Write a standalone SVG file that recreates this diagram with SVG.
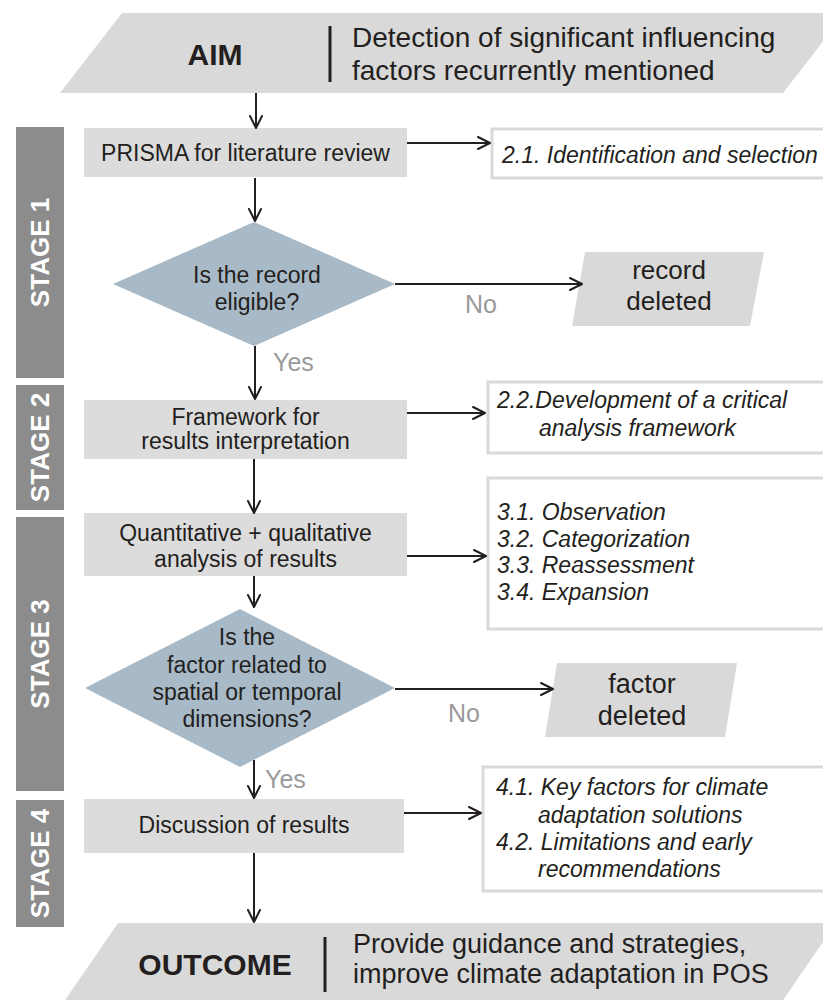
<svg xmlns="http://www.w3.org/2000/svg" width="823" height="1000" viewBox="0 0 823 1000">
<style>
text{font-family:"Liberation Sans",Arial,sans-serif;fill:#231f20}
.b{font-size:23px}
.c{text-anchor:middle}
.i{font-size:23px;font-style:italic}
.lbl{font-size:25px;fill:#9a9a9a}
.big{font-size:30px;font-weight:bold}
.hd{font-size:28px}
.ot{font-size:27px}
.st{font-size:26px;font-weight:bold;fill:#ffffff;text-anchor:middle}
.box{fill:#dcdcdc}
.side{fill:#ffffff;stroke:#d9d9d9;stroke-width:3}
.dia{fill:#a8bac7}
.bar{fill:#8c8c8c}
.ban{fill:#d9d9d9}
.con line{stroke:#231f20;stroke-width:2;marker-end:url(#ah)}
.div{stroke:#231f20;stroke-width:3}
</style>
<defs>
<marker id="ah" markerUnits="userSpaceOnUse" viewBox="-2 -8 16 16" markerWidth="16" markerHeight="16" refX="12" refY="0" orient="auto">
<path d="M0,-6 L12,0 L0,6" fill="none" stroke="#231f20" stroke-width="2" stroke-linejoin="round" stroke-linecap="round"/>
</marker>
</defs>
<rect width="823" height="1000" fill="#ffffff"/>

<g id="aim">
<polygon class="ban" points="122,13 845,13 783,93 60,93"/>
<text class="big c" x="215" y="65">AIM</text>
<line class="div" x1="330" y1="26" x2="330" y2="82"/>
<text class="hd" x="352" y="47">Detection of significant influencing</text>
<text class="hd" x="352" y="80">factors recurrently mentioned</text>
</g>

<g id="stage1"><rect class="bar" x="16" y="127" width="48" height="251"/><text class="st" transform="translate(49,252.5) rotate(-90)">STAGE 1</text></g>
<g id="stage2"><rect class="bar" x="16" y="385" width="48" height="125"/><text class="st" transform="translate(49,447.5) rotate(-90)">STAGE 2</text></g>
<g id="stage3"><rect class="bar" x="16" y="517" width="48" height="274"/><text class="st" transform="translate(49,654) rotate(-90)">STAGE 3</text></g>
<g id="stage4"><rect class="bar" x="16" y="800" width="48" height="127"/><text class="st" transform="translate(49,863.5) rotate(-90)">STAGE 4</text></g>

<g id="prisma"><rect class="box" x="84" y="128" width="323" height="49"/><text class="b c" x="245.5" y="161">PRISMA for literature review</text></g>

<g id="eligible"><polygon class="dia" points="254,222 395,284 254,346 113,284"/>
<text class="b c" x="257" y="283">Is the record</text><text class="b c" x="257" y="310">eligible?</text></g>

<g id="framework"><rect class="box" x="84" y="400" width="323" height="59"/>
<text class="b c" x="245.5" y="425">Framework for</text><text class="b c" x="245.5" y="449">results interpretation</text></g>

<g id="quant"><rect class="box" x="84" y="513" width="323" height="63"/>
<text class="b c" x="245.5" y="541">Quantitative + qualitative</text><text class="b c" x="245.5" y="567">analysis of results</text></g>

<g id="factor"><polygon class="dia" points="240,609 395,688 240,767 85,688"/>
<text class="b c" x="247" y="645">Is the</text>
<text class="b c" x="247" y="673">factor related to</text>
<text class="b c" x="247" y="700">spatial or temporal</text>
<text class="b c" x="247" y="727">dimensions?</text></g>

<g id="discussion"><rect class="box" x="84" y="799" width="320" height="54"/><text class="b c" x="244" y="833">Discussion of results</text></g>

<g id="outcome">
<polygon class="ban" points="118,923 836,923 781,1003 63,1003"/>
<text class="big c" x="215" y="975">OUTCOME</text>
<line class="div" x1="325" y1="937" x2="325" y2="992"/>
<text class="ot" x="353" y="953">Provide guidance and strategies,</text>
<text class="ot" x="353" y="983">improve climate adaptation in POS</text>
</g>

<g id="s21"><rect class="side" x="492" y="129" width="340" height="49"/><text class="i" x="502" y="163">2.1. Identification and selection</text></g>
<g id="s22"><rect class="side" x="488" y="382" width="345" height="71"/>
<text class="i" x="497" y="408">2.2.Development of a critical</text><text class="i" x="539" y="436">analysis framework</text></g>
<g id="s3"><rect class="side" x="488" y="478" width="345" height="151"/>
<text class="i" x="497" y="520">3.1. Observation</text>
<text class="i" x="497" y="547">3.2. Categorization</text>
<text class="i" x="497" y="573">3.3. Reassessment</text>
<text class="i" x="497" y="600">3.4. Expansion</text></g>
<g id="s4"><rect class="side" x="483" y="767" width="350" height="124"/>
<text class="i" x="496" y="795">4.1. Key factors for climate</text>
<text class="i" x="538" y="823">adaptation solutions</text>
<text class="i" x="496" y="850">4.2. Limitations and early</text>
<text class="i" x="538" y="877">recommendations</text></g>

<g id="recdel"><polygon class="ban" points="585,252 764,252 750,326 572,326"/>
<text class="c" x="669" y="279" style="font-size:26px">record</text><text class="c" x="669" y="310" style="font-size:26px">deleted</text></g>
<g id="facdel"><polygon class="ban" points="557,663 737,663 725,737 545,737"/>
<text class="c" x="642" y="693" style="font-size:27px">factor</text><text class="c" x="642" y="725" style="font-size:27px">deleted</text></g>

<g id="labels">
<text class="lbl" x="273" y="371">Yes</text>
<text class="lbl" x="465" y="313">No</text>
<text class="lbl" x="265" y="788">Yes</text>
<text class="lbl" x="448" y="722">No</text>
</g>

<g id="connectors" class="con">
<line x1="256" y1="93" x2="256" y2="128"/>
<line x1="255" y1="178" x2="255" y2="221"/>
<line x1="255" y1="346" x2="255" y2="399"/>
<line x1="254" y1="459" x2="254" y2="513"/>
<line x1="254" y1="576" x2="254" y2="607"/>
<line x1="254" y1="760" x2="254" y2="798"/>
<line x1="254" y1="853" x2="254" y2="922"/>
<line x1="407" y1="143" x2="490" y2="143"/>
<line x1="395" y1="284" x2="582" y2="284"/>
<line x1="407" y1="413" x2="485" y2="413"/>
<line x1="407" y1="556" x2="486" y2="556"/>
<line x1="395" y1="689" x2="553" y2="689"/>
<line x1="404" y1="813" x2="481" y2="813"/>
</g>
</svg>
